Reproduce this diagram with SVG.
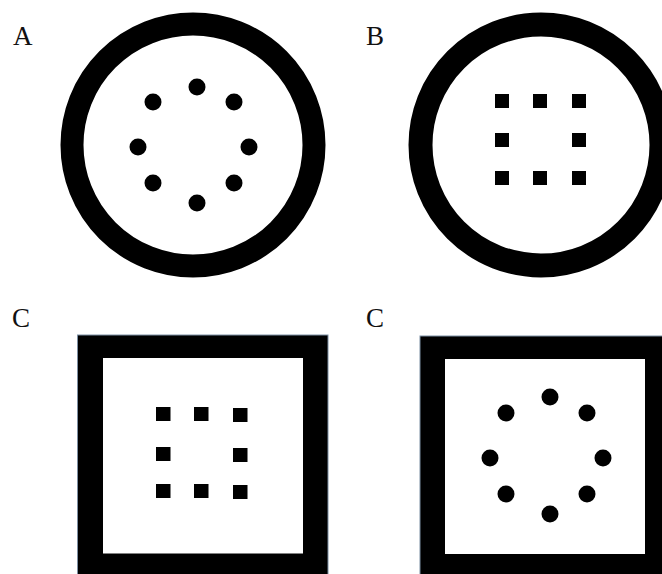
<svg xmlns="http://www.w3.org/2000/svg" width="662" height="574" viewBox="0 0 662 574">
<style>
.lbl{font-family:"Liberation Serif","Times New Roman",serif;font-size:27px;fill:#111}
.ring{fill:none;stroke:#000;stroke-width:23}
.dot{fill:#000}
.sq{fill:#000}
.frame{fill:#000;stroke:#7d8fa3;stroke-width:1}
.inner{fill:#fff}
</style>
<rect width="662" height="574" fill="#fff"/>
<g id="panelA">
<text class="lbl" x="13" y="45">A</text>
<circle class="ring" cx="193" cy="145" r="121"/>
<circle class="dot" cx="197" cy="87" r="8.5"/>
<circle class="dot" cx="234" cy="102" r="8.5"/>
<circle class="dot" cx="249" cy="147" r="8.5"/>
<circle class="dot" cx="234" cy="183" r="8.5"/>
<circle class="dot" cx="197" cy="203" r="8.5"/>
<circle class="dot" cx="153" cy="183" r="8.5"/>
<circle class="dot" cx="138" cy="147" r="8.5"/>
<circle class="dot" cx="153" cy="102" r="8.5"/>
</g>
<g id="panelB">
<text class="lbl" x="366" y="45">B</text>
<circle class="ring" cx="541" cy="145" r="120.5" style="stroke-width:24"/>
<rect class="sq" x="495" y="94" width="14" height="14"/>
<rect class="sq" x="533" y="94" width="14" height="14"/>
<rect class="sq" x="572" y="94" width="14" height="14"/>
<rect class="sq" x="495" y="133" width="14" height="14"/>
<rect class="sq" x="572" y="133" width="14" height="14"/>
<rect class="sq" x="495" y="171" width="14" height="14"/>
<rect class="sq" x="533" y="171" width="14" height="14"/>
<rect class="sq" x="572" y="171" width="14" height="14"/>
</g>
<g id="panelC1">
<text class="lbl" x="12" y="327">C</text>
<rect class="frame" x="77.5" y="335" width="250.5" height="250"/>
<rect class="inner" x="103" y="358" width="200" height="195.5"/>
<rect class="sq" x="156" y="407" width="14.5" height="14"/>
<rect class="sq" x="194" y="407" width="14.5" height="14"/>
<rect class="sq" x="233" y="408" width="14.5" height="14"/>
<rect class="sq" x="156" y="447" width="14.5" height="14"/>
<rect class="sq" x="233" y="448" width="14.5" height="14"/>
<rect class="sq" x="156" y="484" width="14.5" height="14"/>
<rect class="sq" x="194" y="484" width="14.5" height="14"/>
<rect class="sq" x="233" y="485" width="14.5" height="14"/>
</g>
<g id="panelC2">
<text class="lbl" x="366" y="327">C</text>
<rect class="frame" x="420" y="336" width="252" height="250"/>
<rect class="inner" x="445" y="359" width="200" height="195"/>
<circle class="dot" cx="550" cy="397" r="8.5"/>
<circle class="dot" cx="587" cy="413" r="8.5"/>
<circle class="dot" cx="603" cy="458" r="8.5"/>
<circle class="dot" cx="587" cy="494" r="8.5"/>
<circle class="dot" cx="550" cy="514" r="8.5"/>
<circle class="dot" cx="506" cy="494" r="8.5"/>
<circle class="dot" cx="490" cy="458" r="8.5"/>
<circle class="dot" cx="506" cy="413" r="8.5"/>
</g>
<g id="connectors"></g>
</svg>
